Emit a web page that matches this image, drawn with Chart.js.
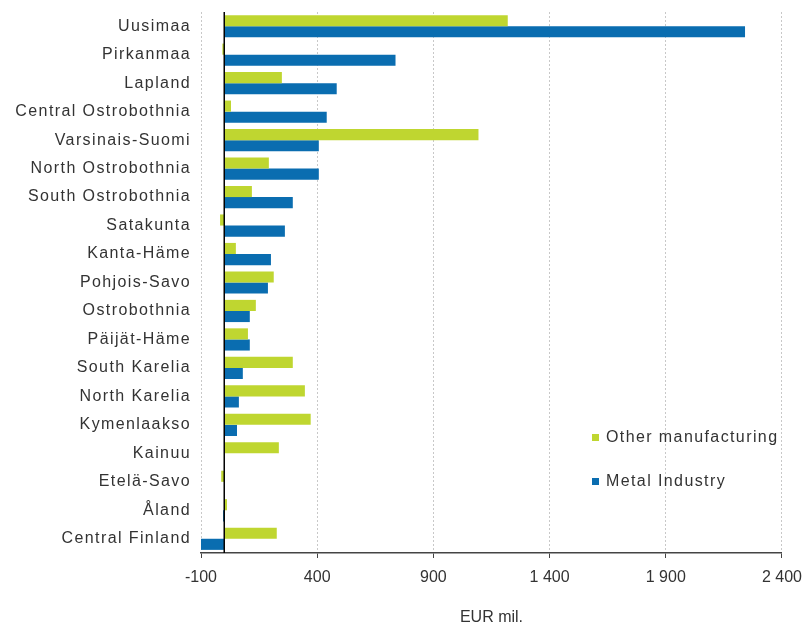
<!DOCTYPE html>
<html>
<head>
<meta charset="utf-8">
<script src="https://cdn.jsdelivr.net/npm/chart.js@4"></script>
<style>
  html, body { margin: 0; padding: 0; background: #fff; }
  #wrap { width: 812px; height: 631px; }
</style>
</head>
<body>
<div id="wrap"><canvas id="chart-regions"></canvas></div>
<script>
// Regions and values, EUR mil.
const regions = ['Uusimaa', 'Pirkanmaa', 'Lapland', 'Central Ostrobothnia', 'Varsinais-Suomi',
    'North Ostrobothnia', 'South Ostrobothnia', 'Satakunta', 'Kanta-Häme', 'Pohjois-Savo',
    'Ostrobothnia', 'Päijät-Häme', 'South Karelia', 'North Karelia', 'Kymenlaakso',
    'Kainuu', 'Etelä-Savo', 'Åland', 'Central Finland'];
const otherManufacturing = [1220, -8, 248, 29, 1094, 192, 119, -18, 50, 213, 136, 102, 295, 347, 372, 235, -13, 12, 226];
const metalIndustry = [2241, 737, 484, 441, 407, 407, 295, 261, 201, 188, 110, 110, 80, 63, 55, 0, 0, -5, -100];
const xTicks = [-100, 400, 900, 1400, 1900, 2400];

const GREEN = '#bfd630';
const BLUE = '#0a6db0';
const FONT = 'Liberation Sans, Arial, sans-serif';

const fmt = v => String(v).replace(/\B(?=(\d{3})+(?!\d))/g, ' ');

// zero line, region labels (wide spacing) and the legend inside the plot
const extras = {
    id: 'extras',
    afterDatasetsDraw(chart) {
        const c = chart.ctx, a = chart.chartArea, x0 = chart.scales.x.getPixelForValue(0);
        const ys = chart.scales.y;
        c.save();
        c.strokeStyle = '#000';
        c.lineWidth = 1.5;
        c.beginPath();
        c.moveTo(x0, a.top);
        c.lineTo(x0, a.bottom);
        c.stroke();

        c.font = '16px ' + FONT;
        c.letterSpacing = '1.4px';
        c.textBaseline = 'middle';
        c.fillStyle = '#333';
        c.textAlign = 'right';
        regions.forEach((r, i) => c.fillText(r, a.left - 10, ys.getPixelForValue(i)));

        c.textAlign = 'left';
        const items = [['Other manufacturing', GREEN], ['Metal Industry', BLUE]];
        items.forEach((it, i) => {
            const y = a.top + 426 + i * 44;
            c.fillStyle = it[1];
            c.fillRect(a.left + 391, y - 4, 7, 7);
            c.fillStyle = '#333';
            c.fillText(it[0], a.left + 405, y);
        });
        c.restore();
    }
};

const ctx = document.getElementById('chart-regions');

new Chart(ctx, {
    type: 'bar',
    data: {
        labels: regions,
        datasets: [
            { label: 'Other manufacturing', data: otherManufacturing, backgroundColor: GREEN },
            { label: 'Metal Industry', data: metalIndustry, backgroundColor: BLUE }
        ]
    },
    options: {
        indexAxis: 'y',
        responsive: true,
        maintainAspectRatio: false,
        animation: false,
        layout: { padding: { top: 12, right: 29, left: 0, bottom: 0 } },
        datasets: { bar: { categoryPercentage: 0.78, barPercentage: 1.0 } },
        plugins: { legend: { display: false }, tooltip: { enabled: false } },
        scales: {
            x: {
                min: -100,
                max: 2400,
                afterBuildTicks: s => { s.ticks = xTicks.map(v => ({ value: v })); },
                ticks: { callback: v => fmt(v), color: '#333', font: { family: FONT, size: 16 }, padding: 10 },
                grid: { color: '#c8c8c8', tickColor: '#444', tickLength: 5 },
                border: { color: '#444', width: 1.5, dash: [2, 2] },
                title: { display: true, text: 'EUR mil.', color: '#333', font: { family: FONT, size: 16 }, padding: { top: 20 } },
                afterFit: s => { s.height = 78; }
            },
            y: {
                grid: { display: false },
                border: { display: false },
                ticks: { display: false },
                afterFit: s => { s.width = 201; }
            }
        }
    },
    plugins: [extras]
});
</script>
</body>
</html>
